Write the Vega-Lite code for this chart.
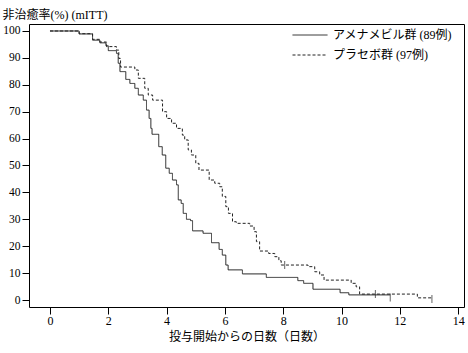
{
  "$schema": "https://vega.github.io/schema/vega-lite/v6.json",
  "width": 435,
  "height": 283,
  "autosize": "none",
  "padding": {"left": 29, "top": 24, "right": 4, "bottom": 46},
  "config": {
    "view": {"stroke": "#000", "strokeWidth": 1},
    "font": "Liberation Serif, Noto Sans CJK JP",
    "axis": {"grid": false, "domain": false, "tickColor": "#000", "tickSize": 7, "labelColor": "#000", "labelFontSize": 12, "labelFont": "Liberation Serif, Noto Sans CJK JP", "titleFont": "Liberation Serif, Noto Sans CJK JP", "titleFontWeight": "normal", "titleColor": "#000", "titleFontSize": 12, "labelPadding": 2, "labelOverlap": false}
  },
  "datasets": {
    "curves": [
      {"group": "アメナメビル群 (89例)", "t": 0, "s": 100},
      {"group": "アメナメビル群 (89例)", "t": 1.0, "s": 98.9},
      {"group": "アメナメビル群 (89例)", "t": 1.46, "s": 96.6},
      {"group": "アメナメビル群 (89例)", "t": 1.71, "s": 95.6},
      {"group": "アメナメビル群 (89例)", "t": 1.92, "s": 94.5},
      {"group": "アメナメビル群 (89例)", "t": 2.0, "s": 92.7},
      {"group": "アメナメビル群 (89例)", "t": 2.28, "s": 91.7},
      {"group": "アメナメビル群 (89例)", "t": 2.34, "s": 88.0},
      {"group": "アメナメビル群 (89例)", "t": 2.4, "s": 84.9},
      {"group": "アメナメビル群 (89例)", "t": 2.6, "s": 82.0},
      {"group": "アメナメビル群 (89例)", "t": 2.74, "s": 80.5},
      {"group": "アメナメビル群 (89例)", "t": 2.91, "s": 78.7},
      {"group": "アメナメビル群 (89例)", "t": 3.03, "s": 76.2},
      {"group": "アメナメビル群 (89例)", "t": 3.2, "s": 74.3},
      {"group": "アメナメビル群 (89例)", "t": 3.31, "s": 70.6},
      {"group": "アメナメビル群 (89例)", "t": 3.4, "s": 67.5},
      {"group": "アメナメビル群 (89例)", "t": 3.46, "s": 63.8},
      {"group": "アメナメビル群 (89例)", "t": 3.5, "s": 61.6},
      {"group": "アメナメビル群 (89例)", "t": 3.73, "s": 57.0},
      {"group": "アメナメビル群 (89例)", "t": 3.85, "s": 53.9},
      {"group": "アメナメビル群 (89例)", "t": 3.97, "s": 49.0},
      {"group": "アメナメビル群 (89例)", "t": 4.09, "s": 47.1},
      {"group": "アメナメビル群 (89例)", "t": 4.2, "s": 44.6},
      {"group": "アメナメビル群 (89例)", "t": 4.34, "s": 42.8},
      {"group": "アメナメビル群 (89例)", "t": 4.4, "s": 37.2},
      {"group": "アメナメビル群 (89例)", "t": 4.5, "s": 35.9},
      {"group": "アメナメビル群 (89例)", "t": 4.57, "s": 32.2},
      {"group": "アメナメビル群 (89例)", "t": 4.68, "s": 30.0},
      {"group": "アメナメビル群 (89例)", "t": 4.82, "s": 29.5},
      {"group": "アメナメビル群 (89例)", "t": 4.89, "s": 25.7},
      {"group": "アメナメビル群 (89例)", "t": 5.25, "s": 24.8},
      {"group": "アメナメビル群 (89例)", "t": 5.54, "s": 21.3},
      {"group": "アメナメビル群 (89例)", "t": 5.8, "s": 18.8},
      {"group": "アメナメビル群 (89例)", "t": 5.91, "s": 16.7},
      {"group": "アメナメビル群 (89例)", "t": 6.03, "s": 13.0},
      {"group": "アメナメビル群 (89例)", "t": 6.11, "s": 11.2},
      {"group": "アメナメビル群 (89例)", "t": 6.6, "s": 9.7},
      {"group": "アメナメビル群 (89例)", "t": 7.42, "s": 8.4},
      {"group": "アメナメビル群 (89例)", "t": 8.5, "s": 7.2},
      {"group": "アメナメビル群 (89例)", "t": 8.7, "s": 6.2},
      {"group": "アメナメビル群 (89例)", "t": 9.02, "s": 4.0},
      {"group": "アメナメビル群 (89例)", "t": 9.95, "s": 2.7},
      {"group": "アメナメビル群 (89例)", "t": 10.25, "s": 1.9},
      {"group": "アメナメビル群 (89例)", "t": 11.67, "s": 1.9},
      {"group": "プラセボ群 (97例)", "t": 0, "s": 100},
      {"group": "プラセボ群 (97例)", "t": 1.0, "s": 99.0},
      {"group": "プラセボ群 (97例)", "t": 1.46, "s": 96.9},
      {"group": "プラセボ群 (97例)", "t": 1.71, "s": 95.9},
      {"group": "プラセボ群 (97例)", "t": 1.94, "s": 94.2},
      {"group": "プラセボ群 (97例)", "t": 2.28, "s": 92.9},
      {"group": "プラセボ群 (97例)", "t": 2.36, "s": 89.8},
      {"group": "プラセボ群 (97例)", "t": 2.42, "s": 86.6},
      {"group": "プラセボ群 (97例)", "t": 2.91, "s": 85.5},
      {"group": "プラセボ群 (97例)", "t": 3.03, "s": 82.4},
      {"group": "プラセボ群 (97例)", "t": 3.25, "s": 78.7},
      {"group": "プラセボ群 (97例)", "t": 3.37, "s": 76.2},
      {"group": "プラセボ群 (97例)", "t": 3.52, "s": 74.3},
      {"group": "プラセボ群 (97例)", "t": 3.86, "s": 70.0},
      {"group": "プラセボ群 (97例)", "t": 4.0, "s": 67.5},
      {"group": "プラセボ群 (97例)", "t": 4.17, "s": 65.7},
      {"group": "プラセボ群 (97例)", "t": 4.34, "s": 63.8},
      {"group": "プラセボ群 (97例)", "t": 4.54, "s": 61.3},
      {"group": "プラセボ群 (97例)", "t": 4.62, "s": 59.5},
      {"group": "プラセボ群 (97例)", "t": 4.74, "s": 55.8},
      {"group": "プラセボ群 (97例)", "t": 4.85, "s": 53.9},
      {"group": "プラセボ群 (97例)", "t": 5.0, "s": 50.8},
      {"group": "プラセボ群 (97例)", "t": 5.11, "s": 48.3},
      {"group": "プラセボ群 (97例)", "t": 5.46, "s": 44.6},
      {"group": "プラセボ群 (97例)", "t": 5.65, "s": 43.4},
      {"group": "プラセボ群 (97例)", "t": 5.82, "s": 42.1},
      {"group": "プラセボ群 (97例)", "t": 5.91, "s": 38.5},
      {"group": "プラセボ群 (97例)", "t": 6.03, "s": 34.7},
      {"group": "プラセボ群 (97例)", "t": 6.12, "s": 32.2},
      {"group": "プラセボ群 (97例)", "t": 6.26, "s": 29.1},
      {"group": "プラセボ群 (97例)", "t": 6.39, "s": 28.5},
      {"group": "プラセボ群 (97例)", "t": 6.85, "s": 27.5},
      {"group": "プラセボ群 (97例)", "t": 7.0, "s": 25.4},
      {"group": "プラセボ群 (97例)", "t": 7.08, "s": 21.7},
      {"group": "プラセボ群 (97例)", "t": 7.19, "s": 18.2},
      {"group": "プラセボ群 (97例)", "t": 7.5, "s": 17.3},
      {"group": "プラセボ群 (97例)", "t": 7.71, "s": 16.1},
      {"group": "プラセボ群 (97例)", "t": 7.85, "s": 14.6},
      {"group": "プラセボ群 (97例)", "t": 7.93, "s": 13.0},
      {"group": "プラセボ群 (97例)", "t": 8.85, "s": 12.4},
      {"group": "プラセボ群 (97例)", "t": 9.08, "s": 10.5},
      {"group": "プラセボ群 (97例)", "t": 9.25, "s": 9.3},
      {"group": "プラセボ群 (97例)", "t": 9.4, "s": 7.4},
      {"group": "プラセボ群 (97例)", "t": 10.33, "s": 6.2},
      {"group": "プラセボ群 (97例)", "t": 10.5, "s": 4.9},
      {"group": "プラセボ群 (97例)", "t": 10.62, "s": 2.2},
      {"group": "プラセボ群 (97例)", "t": 12.6, "s": 0.8},
      {"group": "プラセボ群 (97例)", "t": 13.1, "s": 0.8}
    ],
    "censor": [
      {"group": "プラセボ群 (97例)", "t": 8.05, "s": 13.0},
      {"group": "プラセボ群 (97例)", "t": 11.16, "s": 2.2},
      {"group": "アメナメビル群 (89例)", "t": 11.67, "s": 0.9},
      {"group": "プラセボ群 (97例)", "t": 13.1, "s": 0.4}
    ]
  },
  "encoding": {
    "x": {"field": "t", "type": "quantitative", "scale": {"domain": [-0.72, 14.2], "nice": false, "zero": false},
          "axis": {"values": [0, 2, 4, 6, 8, 10, 12, 14], "title": "投与開始からの日数（日数）", "titleBaseline": "middle", "titleY": 29, "titleX": 217.5, "titleAnchor": null, "labelPadding": 1, "labelOverlap": false}},
    "y": {"field": "s", "type": "quantitative", "scale": {"domain": [-2.6, 102.6], "nice": false, "zero": false},
          "axis": {"values": [0, 10, 20, 30, 40, 50, 60, 70, 80, 90, 100], "labelOverlap": false, "labelBound": false, "labelFlush": false, "labelFontSize": 11.5, "title": "非治癒率(%) (mITT)", "titleAngle": 0, "titleAlign": "left", "titleBaseline": "alphabetic", "titleX": -27, "titleY": -6}}
  },
  "layer": [
    {
      "data": {"name": "curves"},
      "mark": {"type": "line", "interpolate": "step-after", "strokeWidth": 1, "color": "#222"},
      "encoding": {
        "strokeDash": {"field": "group", "type": "nominal",
          "scale": {"domain": ["アメナメビル群 (89例)", "プラセボ群 (97例)"], "range": [[1, 0], [3, 2]]},
          "legend": {"orient": "none", "legendX": 263, "legendY": 2, "title": null, "padding": 0, "symbolType": "stroke", "symbolSize": 1225, "symbolStrokeWidth": 1, "symbolStrokeColor": "#222", "clipHeight": 18, "labelFontSize": 12, "labelFont": "Liberation Serif, Noto Sans CJK JP", "labelColor": "#000", "labelOffset": 5}}
      }
    },
    {
      "data": {"name": "censor"},
      "mark": {"type": "tick", "orient": "vertical", "size": 8, "thickness": 1, "color": "#222"},
      "encoding": {}
    }
  ]
}
